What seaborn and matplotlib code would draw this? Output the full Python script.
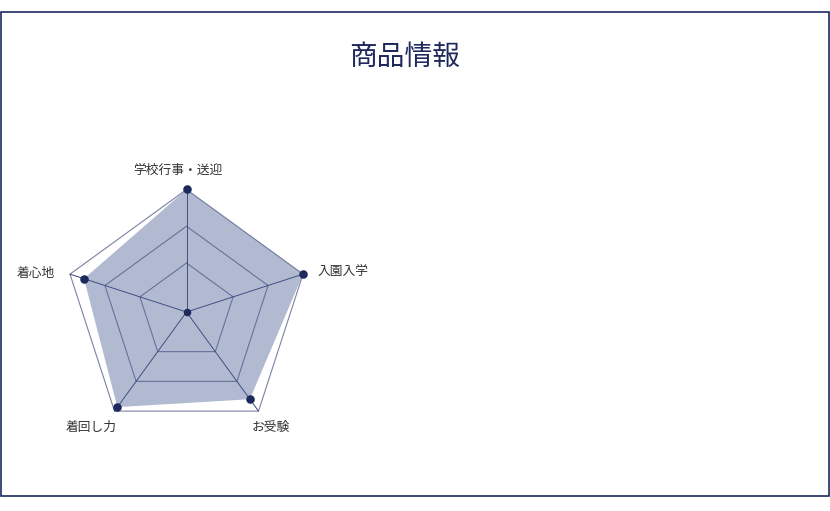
import numpy as np
import pandas as pd
import matplotlib
matplotlib.use("Agg")
import matplotlib.pyplot as plt
from matplotlib.patches import Rectangle
import seaborn as sns

# ---- data ----
title = "商品情報"
categories = ["学校行事・送迎", "入園入学", "お受験", "着回し力", "着心地"]
values = [5.0, 5.0, 4.4, 4.8, 4.4]
ring_levels = [2.0, 3.5, 5.0]
scale_max = 5.0

sns.set_theme(style="white")
plt.rcParams["font.family"] = ["Noto Sans CJK JP", "DejaVu Sans"]

navy = "#1f2a5c"
W, H = 830, 511
fig = plt.figure(figsize=(W / 100, H / 100), dpi=100)
fig.patch.set_facecolor("white")

# outer frame
fig.patches.append(Rectangle((0.8 / W, (H - 495.5) / H), 828.2 / W, 483.5 / H,
                             transform=fig.transFigure, fill=False,
                             edgecolor=navy, linewidth=1.2))

# title
fig.text(405 / W, 1 - 57 / H, title, ha="center", va="center",
         fontsize=20, color=navy)

# radar axes: centre (186.5, 312) px, radius 122.5 px
cx, cy, R = 186.5, 312.0, 122.5
ax = fig.add_axes([(cx - R) / W, (H - cy - R) / H, 2 * R / W, 2 * R / H],
                  projection="polar")
ax.set_theta_offset(np.pi / 2)
ax.set_theta_direction(-1)
ax.set_ylim(0, scale_max)
ax.set_axis_off()

n = len(categories)
theta = np.linspace(0, 2 * np.pi, n, endpoint=False)
theta_c = np.append(theta, theta[0])

# grid rings
for lv in ring_levels:
    ax.plot(theta_c, [lv] * (n + 1), color="#7c82a0", lw=0.8, zorder=1,
            clip_on=False)
# spokes
for t in theta:
    ax.plot([t, t], [0, scale_max], color="#3a4575", lw=0.7, zorder=1,
            clip_on=False)

# filled dataset
vals_c = np.append(values, values[0])
ax.fill(theta_c, vals_c, color=(72 / 255, 92 / 255, 148 / 255), alpha=0.42,
        lw=0, zorder=2, clip_on=False)

df = pd.DataFrame({"theta": theta, "value": values})
sns.scatterplot(data=df, x="theta", y="value", ax=ax, s=38, color=navy,
                edgecolor=navy, linewidth=0, zorder=4, legend=False)
ax.scatter([0], [0], s=30, color=navy, zorder=4, linewidth=0)
for coll in ax.collections:
    coll.set_clip_on(False)
ax.set_xlabel("")
ax.set_ylabel("")

# point labels (angle deg clockwise from top, radius, ha)
label_pos = [(-3.5, 5.8, "center"), (73, 5.6, "left"), (144, 5.85, "center"),
             (219.5, 6.1, "center"), (286.5, 5.6, "right")]
for lab, (ang, rr, ha) in zip(categories, label_pos):
    ax.text(np.deg2rad(ang), rr, lab, ha=ha, va="center", fontsize=9.2,
            color="#333333", clip_on=False)

fig.savefig("out.png", dpi=100, facecolor="white")
